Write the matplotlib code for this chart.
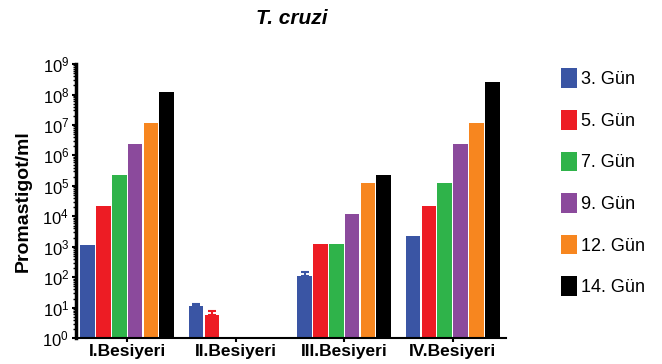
import matplotlib
matplotlib.use('Agg')
import matplotlib.pyplot as plt
import numpy as np

plt.rcParams['font.family'] = ['Liberation Sans', 'DejaVu Sans']
plt.rcParams['mathtext.fontset'] = 'custom'
plt.rcParams['mathtext.rm'] = 'Liberation Sans:bold'
plt.rcParams['mathtext.default'] = 'regular'

# groups and days
groups = ['I.Besiyeri', 'II.Besiyeri', 'III.Besiyeri', 'IV.Besiyeri']
days = ['3. Gün', '5. Gün', '7. Gün', '9. Gün', '12. Gün', '14. Gün']
colors = ['#3a55a4', '#ed1c24', '#2fb34a', '#8b4a9c', '#f7861f', '#000000']

# values per day (one entry per group), nan = no bar
gun3 = [1.15e3, 1.1e1, 1.1e2, 2.2e3]
gun5 = [2.2e4, 5.7, 1.2e3, 2.2e4]
gun7 = [2.3e5, np.nan, 1.2e3, 1.2e5]
gun9 = [2.4e6, np.nan, 1.2e4, 2.4e6]
gun12 = [1.2e7, np.nan, 1.2e5, 1.2e7]
gun14 = [1.2e8, np.nan, 2.2e5, 2.5e8]

# upper error bars
err3 = [0, 2.5, 40, 0]
err5 = [0, 2.1, 0, 0]

series = [gun3, gun5, gun7, gun9, gun12, gun14]
errs = [err3, err5, None, None, None, None]

fig = plt.figure(figsize=(6.62, 3.64), dpi=100)
ax = fig.add_axes([0.115, 0.071, 0.649, 0.753])

x = np.arange(len(groups))
w = 0.135
for i, vals in enumerate(series):
    pos = x + (i - 2.5) * 0.146
    v = np.array(vals, dtype=float)
    ax.bar(pos, v, width=w, color=colors[i], label=days[i], zorder=2)
    if errs[i] is not None:
        e = np.array(errs[i], dtype=float)
        m = e > 0
        ax.errorbar(pos[m], v[m], yerr=[np.zeros(m.sum()), e[m]], fmt='none',
                    ecolor=colors[i], elinewidth=1.5, capsize=3, capthick=1.5, zorder=3)

ax.set_yscale('log')
ax.set_ylim(1, 1e9)
ax.set_xlim(-0.47, 3.49)
ax.set_yticks([10.0 ** k for k in range(10)])
ax.set_yticklabels(['$10^{%d}$' % k for k in range(10)], fontsize=12)
ax.set_xticks(x)
ax.set_xticklabels(groups, fontsize=12.5, fontweight='bold')
ax.tick_params(axis='y', which='major', length=3, width=1.5, pad=2)
ax.tick_params(axis='y', which='minor', length=2, width=1)
ax.tick_params(axis='x', length=3, width=1.5, pad=1)
ax.spines['top'].set_visible(False)
ax.spines['right'].set_visible(False)
ax.spines['left'].set_linewidth(2.5)
ax.spines['bottom'].set_linewidth(1.5)

ax.set_ylabel('Promastigot/ml', fontsize=14, fontweight='bold', labelpad=8)
fig.text(0.441, 0.948, 'T. cruzi', fontsize=15, fontweight='bold', style='italic',
         ha='center', va='center')

fig.legend(loc='upper left', bbox_to_anchor=(0.847, 0.812), frameon=False,
           fontsize=13, handlelength=0.9, handleheight=1.3, handletextpad=0.25,
           labelspacing=1.2, borderpad=0, borderaxespad=0)

fig.savefig('out.png', dpi=100)
